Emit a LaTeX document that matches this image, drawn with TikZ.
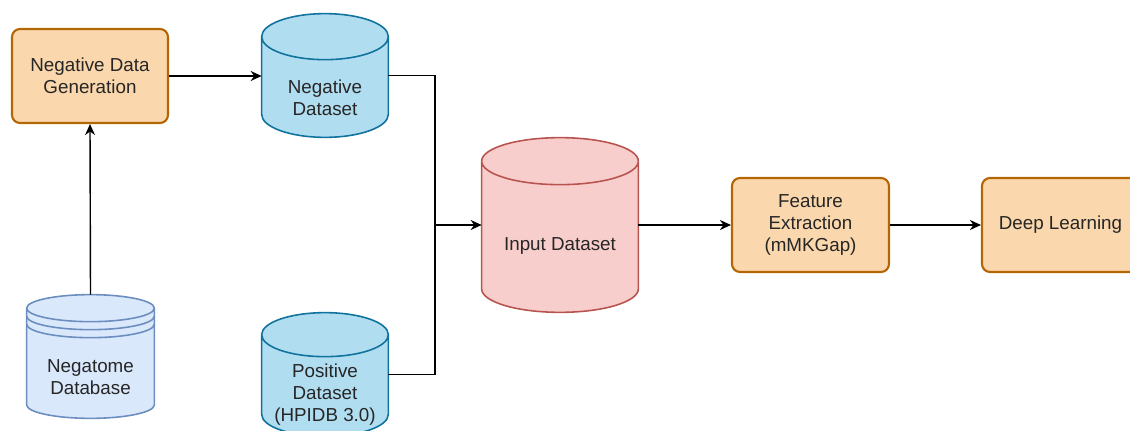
\documentclass[tikz,border=0pt]{standalone}
\usepackage{fontspec}
\setmainfont{Liberation Sans}
\usetikzlibrary{calc,arrows.meta}

\definecolor{procfill}{HTML}{FAD7AC}
\definecolor{procdraw}{HTML}{B46504}
\definecolor{dsfill}{HTML}{B1DDF0}
\definecolor{dsdraw}{HTML}{10739E}
\definecolor{infill}{HTML}{F8CECC}
\definecolor{indraw}{HTML}{B85450}
\definecolor{dbfill}{HTML}{DAE8FC}
\definecolor{dbdraw}{HTML}{6C8EBF}

% cylinder outline round a named node: #1 node, #2 ellipse y radius, #3 style
\newcommand{\drawdrum}[3]{%
  \path[#3] let \p1=(#1.north west), \p2=(#1.south east), \n1={(\x2-\x1)/2} in
    (\x1,\y1-#2) -- (\x1,\y2+#2)
    arc[start angle=180, end angle=360, x radius=\n1, y radius=#2]
    -- (\x2,\y1-#2)
    arc[start angle=0, end angle=180, x radius=\n1, y radius=#2] -- cycle
    (\x1,\y1-#2) arc[start angle=180, end angle=360, x radius=\n1, y radius=#2];
}

\begin{document}
\begin{tikzpicture}[x=1mm, y=1mm,
    font=\fontsize{10.7}{12.5}\selectfont,
    proc/.style={draw=procdraw, fill=procfill, line width=1.2pt, rounded corners=1.6mm,
      minimum width=31.4mm, minimum height=18.8mm, align=center, text=black!85},
    dbnode/.style={minimum width=25.2mm, minimum height=24.6mm, inner sep=0pt},
    dbtext/.style={align=center, text=black!85},
    arr/.style={line width=0.8pt, -{Stealth[length=2.2mm, width=2mm]}},
    link/.style={line width=0.8pt}]

    \useasboundingbox (0,0) rectangle (226,86);
    \clip (0,0) rectangle (226,86);

    % Draw the process boxes
    \node[proc, minimum width=31.2mm] (ndg) at (18,70.8) {Negative Data\\Generation};
    \node[proc] (fe) at (162.1,41) {Feature\\Extraction\\(mMKGap)};
    \node[proc] (dl) at (212.1,41) {Deep Learning};

    % Draw the data stores
    \node[dbnode] (negds) at (65,70.9) {};
    \drawdrum{negds}{4.6mm}{draw=dsdraw, fill=dsfill, line width=0.9pt}
    \node[dbtext] (negdstxt) at ($(negds)+(0,-4.4)$) {Negative\\Dataset};

    \node[dbnode] (posds) at (65,11.1) {};
    \drawdrum{posds}{4.4mm}{draw=dsdraw, fill=dsfill, line width=0.9pt}
    \node[dbtext] (posdstxt) at ($(posds)+(0,-4)$) {Positive\\Dataset\\(HPIDB 3.0)};

    \node[dbnode, minimum width=31.2mm, minimum height=34.8mm] (inds) at (112,41) {};
    \drawdrum{inds}{4.7mm}{draw=indraw, fill=infill, line width=0.9pt}
    \node[dbtext] (indstxt) at ($(inds)+(0,-4.2)$) {Input Dataset};

    \node[dbnode, minimum width=25.4mm] (negatome) at (18.1,14.7) {};
    \drawdrum{negatome}{2.7mm}{draw=dbdraw, fill=dbfill, line width=0.9pt}
    \draw[dbdraw, line width=0.9pt] let \p1=(negatome.north west), \p2=(negatome.north east),
      \n1={(\x2-\x1)/2} in
      (\x1,\y1-4.3mm) arc[start angle=180, end angle=360, x radius=\n1, y radius=2.7mm]
      (\x1,\y1-5.9mm) arc[start angle=180, end angle=360, x radius=\n1, y radius=2.7mm];
    \node[dbtext] (negatometxt) at ($(negatome)+(0,-4.2)$) {Negatome\\Database};

    % Draw the connectors
    \coordinate (jn) at (87,41);
    \draw[arr] (negatome.north) -- (ndg.south);
    \draw[arr] (ndg.east) -- (ndg.east -| negds.west);
    \draw[link] (negds.east) -- (negds.east -| jn) -- (posds.east -| jn) -- (posds.east);
    \draw[arr] (jn) -- (inds.west);
    \draw[arr] (inds.east) -- (fe.west);
    \draw[arr] (fe.east) -- (dl.west);

\end{tikzpicture}
\end{document}
